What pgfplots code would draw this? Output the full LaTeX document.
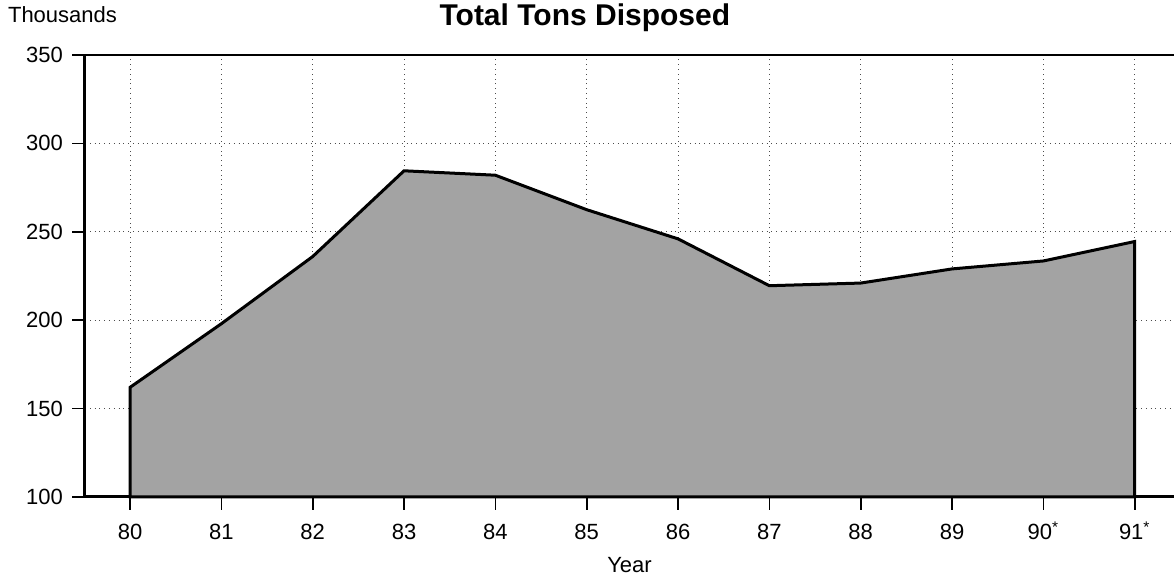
\documentclass[border=0pt]{standalone}
\usepackage{pgfplots}
\pgfplotsset{compat=1.18}
\usepackage{fontspec}
\setmainfont{Liberation Sans}

\begin{document}
\begin{tikzpicture}
\path[use as bounding box] (-42.5pt,-39.5pt) rectangle (544.5pt,248.5pt);
\begin{axis}[
    at={(0,0)}, anchor=south west,
    scale only axis,
    width=544.5pt, height=221pt,
    xmin=79.507, xmax=91.43,
    ymin=100, ymax=350,
    xtick={80,...,91},
    xticklabels={80,81,82,83,84,85,86,87,88,89,90\textsuperscript{*},91\textsuperscript{*}},
    ytick={100,150,...,350},
    /pgf/number format/assume math mode=true,
    tick label style={font=\fontsize{11}{13}\selectfont},
    xticklabel style={anchor=base, yshift=-15pt},
    yticklabel style={anchor=east, xshift=-1pt},
    tick align=outside,
    major tick length=6.5pt,
    tick style={black, line width=0.8pt},
    axis x line*=bottom,
    axis y line*=left,
    axis line style={black, line width=1.5pt, -},
    grid=major,
    major grid style={black!70, dotted, line width=0.5pt},
    xlabel={Year},
    xlabel style={font=\fontsize{11}{13}\selectfont, anchor=base, at={(rel axis cs:0.5,0)}, yshift=-38pt},
    clip=false,
]
\addplot[draw=black, line width=1.5pt, fill=black!36] coordinates {
    (80,162) (81,198) (82,236) (83,284.5) (84,282) (85,262.5)
    (86,246) (87,219.5) (88,221) (89,229) (90,233.5) (91,244.5)
} \closedcycle;
\draw[black, line width=1pt] (rel axis cs:0,1) -- (rel axis cs:1,1);
\node[anchor=west, font=\fontsize{11}{13}\selectfont] at ([xshift=-42pt, yshift=20pt]rel axis cs:0,1) {Thousands};
\node[font=\fontsize{15}{17}\bfseries] at ([yshift=18.5pt]rel axis cs:0.459,1) {Total Tons Disposed};
\end{axis}
\end{tikzpicture}
\end{document}
